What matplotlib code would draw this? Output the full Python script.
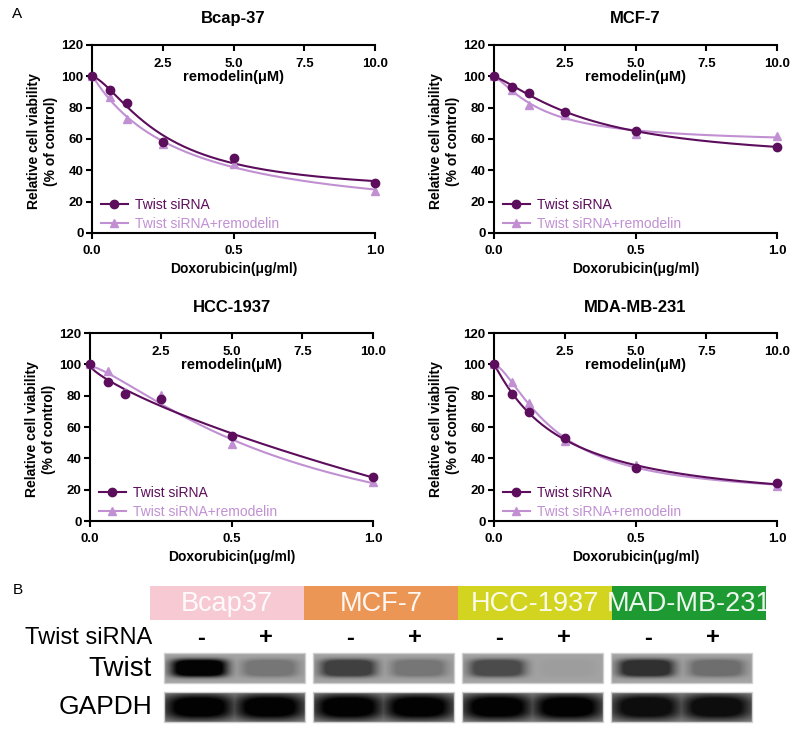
import numpy as np
import matplotlib
matplotlib.use("Agg")
import matplotlib.pyplot as plt
from matplotlib.lines import Line2D
from matplotlib.patches import Rectangle

plt.rcParams['font.family'] = ['Liberation Sans', 'DejaVu Sans']

# ---------------- data: panel A ----------------
dox = [0, 0.0625, 0.125, 0.25, 0.5, 1.0]          # Doxorubicin (ug/ml)
remodelin_ticks = [2.5, 5.0, 7.5, 10.0]            # remodelin (uM)
cell_lines = ["Bcap-37", "MCF-7", "HCC-1937", "MDA-MB-231"]

bcap_sirna = [100, 91, 83, 58, 48, 32]
bcap_remod = [100, 87, 73, 57, 44, 27]
mcf_sirna = [100, 93, 89.5, 77, 65, 55]
mcf_remod = [100, 91, 82, 75, 63.5, 62]
hcc_sirna = [100, 89, 81, 78, 54, 28]
hcc_remod = [100, 95.5, 82.5, 80.5, 49, 25]
mda_sirna = [100, 81, 69.5, 53, 34, 24]
mda_remod = [100, 88.5, 75.5, 51, 36, 22.5]

series_labels = ["Twist siRNA", "Twist siRNA+remodelin"]

# ---------------- data: panel B ----------------
blot_lines = ["Bcap37", "MCF-7", "HCC-1937", "MAD-MB-231"]
header_colors = ["#f6c9d3", "#ec9656", "#d3d41f", "#1e9a32"]
sirna_signs = ["-", "+"]
twist_band = [[1.0, 0.28], [0.62, 0.28], [0.55, 0.04], [0.72, 0.33]]   # relative darkness per lane
gapdh_band = [[1.0, 1.0], [1.0, 1.0], [1.0, 1.0], [0.92, 0.92]]

# ---------------- style ----------------
DARK = "#5c0d5b"
LIGHT = "#c190d2"

fig = plt.figure(figsize=(8.0, 7.31), dpi=100)
W, H = 800.0, 731.0


def px_axes(x0, y0, x1, y1):
    return fig.add_axes([x0 / W, 1 - y1 / H, (x1 - x0) / W, (y1 - y0) / H])


def fit_curve(x, y, xs):
    x = np.asarray(x, float)
    y = np.asarray(y, float)
    best = (np.inf, None)
    for lc in np.linspace(-2.5, 1.5, 121):
        c = 10 ** lc
        for h in np.linspace(0.3, 3.0, 46):
            f = 1.0 / (1.0 + (x / c) ** h)
            A = np.column_stack([np.ones_like(f), f])
            coef = np.linalg.lstsq(A, y, rcond=None)[0]
            sse = np.sum((A @ coef - y) ** 2)
            if sse < best[0]:
                best = (sse, (c, h, coef))
    c, h, coef = best[1]
    return coef[0] + coef[1] / (1.0 + (xs / c) ** h)


def draw_panel(ax, title, y1, y2):
    xs = np.linspace(0, 1, 300)
    ax.plot(xs, fit_curve(dox, y1, xs), color=DARK, lw=1.5, zorder=3)
    ax.plot(xs, fit_curve(dox, y2, xs), color=LIGHT, lw=1.5, zorder=2)
    ax.plot(dox, y1, 'o', color=DARK, ms=6, clip_on=False, zorder=4)
    ax.plot(dox, y2, '^', color=LIGHT, ms=6, clip_on=False, zorder=3)
    ax.set_xlim(0, 1)
    ax.set_ylim(0, 120)
    ax.set_xticks([0, 0.5, 1.0])
    ax.set_xticklabels(["0.0", "0.5", "1.0"])
    ax.set_yticks(range(0, 121, 20))
    for s in ["right", "top"]:
        ax.spines[s].set_visible(False)
    for s in ["left", "bottom"]:
        ax.spines[s].set_linewidth(1.5)
    ax.tick_params(direction='out', length=4, width=1.5, labelsize=9.5)
    ax.tick_params(axis='x', pad=5)
    ax.tick_params(axis='y', pad=2)
    for lab in ax.get_xticklabels() + ax.get_yticklabels():
        lab.set_fontweight('bold')
    ax.set_xlabel("Doxorubicin(\u03bcg/ml)", fontsize=10, fontweight='bold')
    ax.xaxis.set_label_coords(0.5, -0.155)
    ax.set_ylabel("Relative cell viability\n(% of control)", fontsize=10,
                  fontweight='bold', linespacing=1.3)
    ax.yaxis.set_label_coords(-0.12, 0.49)
    ax.text(0.5, 1 + 26 / 188, title, transform=ax.transAxes, ha='center',
            va='center', fontsize=12, fontweight='bold')
    tw = ax.twiny()
    tw.set_xlim(0, 10)
    tw.set_xticks(remodelin_ticks)
    tw.set_xticklabels(["%.1f" % v for v in remodelin_ticks])
    for s in ["left", "right", "bottom"]:
        tw.spines[s].set_visible(False)
    tw.spines["top"].set_linewidth(1.5)
    tw.tick_params(axis='x', direction='in', length=4, width=1.5, labelsize=9.5, pad=-18)
    for lab in tw.get_xticklabels():
        lab.set_fontweight('bold')
    ax.text(0.5, 0.83, "remodelin(\u03bcM)", transform=ax.transAxes, ha='center',
            va='center', fontsize=10.5, fontweight='bold')
    handles = [Line2D([], [], color=DARK, marker='o', ms=6, lw=1.5),
               Line2D([], [], color=LIGHT, marker='^', ms=6, lw=1.5)]
    leg = ax.legend(handles, series_labels, loc='lower left', bbox_to_anchor=(0.018, -0.01),
                    frameon=False, fontsize=10, handlelength=1.9, handletextpad=0.5,
                    labelspacing=0.35, borderaxespad=0.0, borderpad=0.3)
    for t, c in zip(leg.get_texts(), [DARK, LIGHT]):
        t.set_color(c)


data_pairs = [(bcap_sirna, bcap_remod), (mcf_sirna, mcf_remod),
              (hcc_sirna, hcc_remod), (mda_sirna, mda_remod)]
boxes = [(92, 45, 375, 233), (494, 45, 777, 233), (90, 333, 373, 521), (494, 333, 777, 521)]
for (b, name, (s1, s2)) in zip(boxes, cell_lines, data_pairs):
    ax = px_axes(*b)
    draw_panel(ax, name, s1, s2)

fig.text(12 / W, 1 - 14 / H, "A", fontsize=11, ha='left', va='center')

# ---------------- panel B ----------------
axb = fig.add_axes([0, 0, 1, 1], zorder=-1)
axb.set_xlim(0, W)
axb.set_ylim(H, 0)
axb.axis('off')

axb.text(13, 590, "B", fontsize=11, ha='left', va='center')

HDR_X0, HDR_W, HDR_Y0, HDR_Y1 = 150, 154, 586, 620
for i, (name, col) in enumerate(zip(blot_lines, header_colors)):
    x0 = HDR_X0 + i * HDR_W
    axb.add_patch(Rectangle((x0, HDR_Y0), HDR_W, HDR_Y1 - HDR_Y0, facecolor=col,
                            edgecolor='none'))
    axb.text(x0 + HDR_W / 2, (HDR_Y0 + HDR_Y1) / 2 + 1, name, ha='center', va='center',
             fontsize=19.5, color='white', alpha=0.92)

LBL_X = 152
axb.text(LBL_X, 638, "Twist siRNA", ha='right', va='center', fontsize=17)
axb.text(LBL_X, 669, "Twist", ha='right', va='center', fontsize=20)
axb.text(LBL_X, 707, "GAPDH", ha='right', va='center', fontsize=19)

BOX_X0, BOX_STEP, BOX_W = 164, 149, 141
LANES = [0.26, 0.72]
ROW_TW = (653, 683)
ROW_GA = (692, 722)


def blot_image(amps, hw, hh, bg, order=6, gain=1.0, nw=141, nh=30):
    xx = (np.arange(nw) + 0.5) / nw
    yy = (np.arange(nh) + 0.5) / nh
    X, Y = np.meshgrid(xx, yy)
    dark = np.zeros_like(X)
    for c, a in zip([0.25, 0.75], amps):
        r = np.abs((X - c) / hw) ** order + np.abs((Y - 0.5) / hh) ** order
        shape = np.exp(-r)
        dark = np.maximum(dark, np.clip(gain * a * shape, 0, a))
    return bg * (1 - 0.98 * dark)


for i in range(4):
    x0 = BOX_X0 + i * BOX_STEP
    for lane, sign in zip(LANES, sirna_signs):
        axb.text(x0 + lane * BOX_W, 638, sign, ha='center', va='center', fontsize=17,
                 fontweight='bold')
    img_t = blot_image(twist_band[i], 0.2, 0.3, 0.64, order=4, gain=1.5)
    axb.imshow(img_t, cmap='gray', vmin=0, vmax=1, extent=(x0, x0 + BOX_W, ROW_TW[1], ROW_TW[0]),
               aspect='auto', interpolation='bilinear')
    img_g = blot_image(gapdh_band[i], 0.255, 0.43, 0.55, order=3, gain=1.35)
    axb.imshow(img_g, cmap='gray', vmin=0, vmax=1, extent=(x0, x0 + BOX_W, ROW_GA[1], ROW_GA[0]),
               aspect='auto', interpolation='bilinear')
    for (r0, r1) in (ROW_TW, ROW_GA):
        axb.add_patch(Rectangle((x0, r0), BOX_W, r1 - r0, facecolor='none',
                                edgecolor='#cfcfcf', lw=1.0))

axb.set_xlim(0, W)
axb.set_ylim(H, 0)

fig.savefig("out.png", dpi=100)
